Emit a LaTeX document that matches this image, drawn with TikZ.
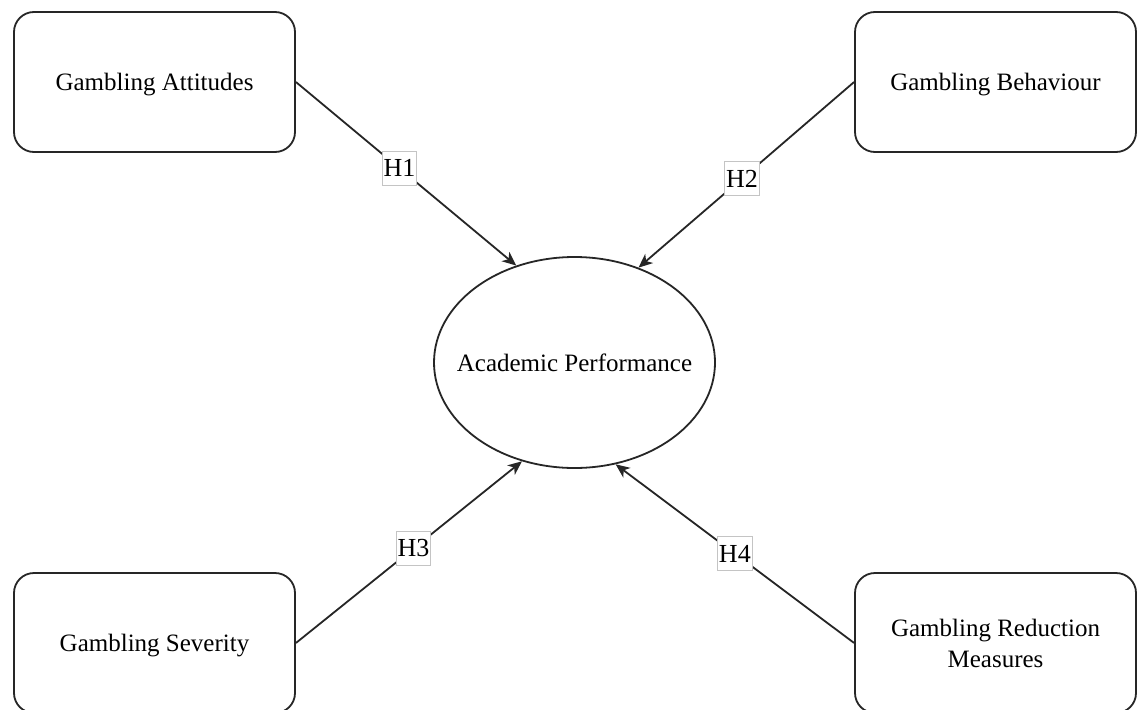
\documentclass[tikz,border=0pt]{standalone}
\usepackage{fontspec}
\setmainfont{Liberation Serif}
\usetikzlibrary{shapes.geometric,arrows.meta}
\definecolor{edge}{HTML}{262626}
\definecolor{lblframe}{HTML}{C4C4C4}
\tikzset{
  varbox/.style={draw=edge, line width=1.8pt, rounded corners=20pt, fill=white,
    minimum width=281pt, minimum height=140pt, inner sep=0pt, align=center,
    text depth=-4pt,
    font=\fontsize{25}{31}\selectfont},
  outcome/.style={draw=edge, line width=1.8pt, ellipse, fill=white,
    minimum width=281pt, minimum height=211pt, inner sep=0pt},
  centretext/.style={font=\fontsize{25}{31}\selectfont, inner sep=0pt},
  arr/.style={draw=edge, line width=1.8pt, -{Stealth[length=14pt,width=12pt,inset=4pt]}},
  hlbl/.style={draw=lblframe, line width=0.8pt, fill=white, inner sep=1.5pt,
    minimum width=33pt, minimum height=34pt, font=\fontsize{26}{30}\selectfont}
}
\begin{document}
\begin{tikzpicture}[x=1pt,y=-1pt]
\clip (0,0) rectangle (1139,709);
\fill[white] (0,0) rectangle (1139,709);
\node[varbox] (ga) at (154.5,82) {Gambling Attitudes};
\node[varbox] (gb) at (995.5,82) {Gambling Behaviour};
\node[varbox] (gs) at (154.5,643) {Gambling Severity};
\node[varbox, text depth=0pt] (gr) at (995.5,643) {Gambling Reduction\\Measures};
\node[outcome, label={[centretext]center:Academic Performance}] (ap) at (574.5,362.5) {};
\draw[arr] (ga.east) -- node[hlbl, pos=0.47] (h1) {H1} (ap.121);
\draw[arr] (gb.west) -- node[hlbl, pos=0.52] (h2) {H2} (ap.56);
\draw[arr] (gs.east) -- node[hlbl, pos=0.52] (h3) {H3} (ap.242);
\draw[arr] (gr.west) -- node[hlbl, pos=0.50] (h4) {H4} (ap.292);
\end{tikzpicture}
\end{document}
